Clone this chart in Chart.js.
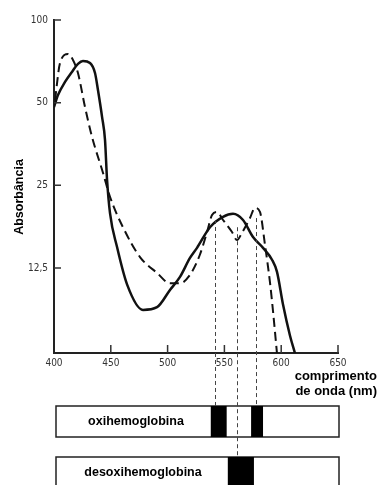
<!DOCTYPE html>
<html>
<head>
<meta charset="utf-8">
<script src="https://cdn.jsdelivr.net/npm/chart.js@4"></script>
<style>
  html, body { margin: 0; padding: 0; background: #fff; }
  #wrap { position: relative; width: 377px; height: 485px; }
</style>
</head>
<body>
<div id="wrap"><canvas id="spectrum"></canvas></div>
<script>
// absorption spectra (wavelength in nm, absorbance on a log axis)
const deoxyWavelength = [400, 403.5, 409.7, 415.8, 421.1, 425.5, 431.7, 436.1, 438.7, 442.3, 444.9, 446.7, 449.3, 455.5, 464.3, 478.3, 490.7, 502.1, 510.9, 519.7, 525.9, 537.3, 548.8, 557.6, 566.4, 575.2, 584.0, 591.9, 596.3, 601.6, 607.7, 612.2];
const deoxyAbsorbance = [48.2, 53.3, 59.5, 64.7, 69.2, 70.9, 69.7, 64.1, 55.6, 44.4, 36.6, 26.2, 19.8, 14.9, 10.9, 8.8, 9.0, 10.4, 11.6, 13.6, 14.8, 17.6, 19.2, 19.7, 18.7, 16.2, 14.8, 13.4, 12.1, 9.2, 7.1, 6.1];
const oxyWavelength = [400.9, 405.3, 412.3, 416.7, 421.1, 427.3, 433.5, 443.1, 449.3, 460.7, 475.7, 490.7, 502.1, 510.9, 519.7, 528.5, 534.7, 539.1, 543.5, 548.8, 556.7, 561.1, 565.5, 572.5, 576.9, 581.3, 585.7, 590.1, 592.8, 596.3];
const oxyAbsorbance = [51.1, 69.7, 75.2, 71.5, 64.1, 48.2, 37.5, 27.8, 22.7, 17.6, 13.7, 12.0, 11.0, 11.0, 11.8, 14.0, 16.9, 19.5, 20.0, 18.7, 16.9, 15.8, 16.8, 19.0, 20.7, 20.0, 15.2, 11.1, 8.7, 6.1];

const yTicks = [100, 50, 25, 12.5];

// absorption bands under the axis (start / end in nm)
const oxyBands = [[538, 552], [573.5, 584]];
const deoxyBands = [[553, 576]];
const bandLabels = ['oxihemoglobina', 'desoxihemoglobina'];

// dashed guide lines: wavelength, absorbance where they start, band row where they stop
const markerWavelength = [541.5, 561, 577.5];
const markerAbsorbance = [18.7, 17.6, 19.0];
const markerRow = [0, 1, 0];

const toPoints = (xs, ys) => xs.map((x, i) => ({ x: x, y: ys[i] }));

const extras = {
  id: 'extras',
  afterDraw(chart) {
    const { ctx, chartArea: area, scales: { x, y } } = chart;
    ctx.save();

    // inward tick marks
    ctx.strokeStyle = '#333';
    ctx.lineWidth = 1.5;
    ctx.beginPath();
    y.ticks.forEach(t => {
      const py = y.getPixelForValue(t.value);
      ctx.moveTo(area.left, py); ctx.lineTo(area.left + 7, py);
    });
    x.ticks.forEach(t => {
      if (t.value === x.min) return;
      const px = x.getPixelForValue(t.value);
      ctx.moveTo(px, area.bottom); ctx.lineTo(px, area.bottom - 8);
    });
    ctx.stroke();

    // band rows
    const rows = [
      { top: 406, height: 31, bands: oxyBands, label: bandLabels[0], labelX: 136 },
      { top: 457, height: 40, bands: deoxyBands, label: bandLabels[1], labelX: 143 },
    ];
    const left = area.left + 2, right = area.right + 1;
    rows.forEach(r => {
      ctx.fillStyle = '#fff';
      ctx.fillRect(left, r.top, right - left, r.height);
      ctx.strokeStyle = '#222';
      ctx.lineWidth = 1.5;
      ctx.strokeRect(left, r.top, right - left, r.height);
      ctx.fillStyle = '#000';
      r.bands.forEach(b => {
        const x0 = x.getPixelForValue(b[0]), x1 = x.getPixelForValue(b[1]);
        ctx.fillRect(x0, r.top, x1 - x0, r.height);
      });
      ctx.font = 'bold 12.5px "Liberation Sans", Arial, sans-serif';
      ctx.textAlign = 'center';
      ctx.textBaseline = 'middle';
      ctx.fillText(r.label, r.labelX, r.top + 16);
    });

    // dashed guide lines
    ctx.strokeStyle = '#444';
    ctx.lineWidth = 1;
    ctx.setLineDash([4, 3]);
    markerWavelength.forEach((w, i) => {
      const px = Math.round(x.getPixelForValue(w)) + 0.5;
      ctx.beginPath();
      ctx.moveTo(px, y.getPixelForValue(markerAbsorbance[i]));
      ctx.lineTo(px, rows[markerRow[i]].top);
      ctx.stroke();
    });
    ctx.setLineDash([]);

    // axis titles
    ctx.fillStyle = '#000';
    ctx.font = 'bold 13px "Liberation Sans", Arial, sans-serif';
    ctx.textAlign = 'right';
    ctx.textBaseline = 'middle';
    ctx.fillText('comprimento', 377, 376);
    ctx.fillText('de onda (nm)', 377, 391);

    ctx.translate(20, 197);
    ctx.rotate(-Math.PI / 2);
    ctx.font = 'bold 12.5px "Liberation Sans", Arial, sans-serif';
    ctx.textAlign = 'center';
    ctx.fillText('Absorbância', 0, 0);
    ctx.restore();
  }
};

const tickFont = { family: '"Liberation Sans Narrow", "DejaVu Sans Condensed", Arial, sans-serif', size: 10 };

new Chart(document.getElementById('spectrum'), {
  type: 'line',
  data: {
    datasets: [
      { label: 'desoxihemoglobina', data: toPoints(deoxyWavelength, deoxyAbsorbance), borderColor: '#111', borderWidth: 2.5, pointRadius: 0, cubicInterpolationMode: 'monotone', fill: false },
      { label: 'oxihemoglobina', data: toPoints(oxyWavelength, oxyAbsorbance), borderColor: '#111', borderWidth: 2, borderDash: [9, 5], pointRadius: 0, cubicInterpolationMode: 'monotone', fill: false },
    ],
  },
  options: {
    responsive: true,
    maintainAspectRatio: false,
    animation: false,
    layout: { padding: { top: 20, right: 39, bottom: 112, left: 0 } },
    plugins: { legend: { display: false }, tooltip: { enabled: false } },
    scales: {
      x: {
        type: 'linear', min: 400, max: 650, bounds: 'data',
        grid: { display: false, drawTicks: false },
        border: { display: true, color: '#222', width: 2 },
        ticks: { stepSize: 50, color: '#333', font: tickFont, padding: 4, maxRotation: 0 },
        afterFit: s => { s.height = 20; },
      },
      y: {
        type: 'logarithmic', min: 6.13, max: 100, bounds: 'data',
        grid: { display: false, drawTicks: false },
        border: { display: true, color: '#222', width: 2 },
        ticks: { color: '#333', font: tickFont, padding: 6, callback: v => String(v).replace('.', ',') },
        afterBuildTicks: s => { s.ticks = yTicks.map(v => ({ value: v })); },
        afterFit: s => { s.width = 54; },
      },
    },
  },
  plugins: [extras],
});
</script>
</body>
</html>
